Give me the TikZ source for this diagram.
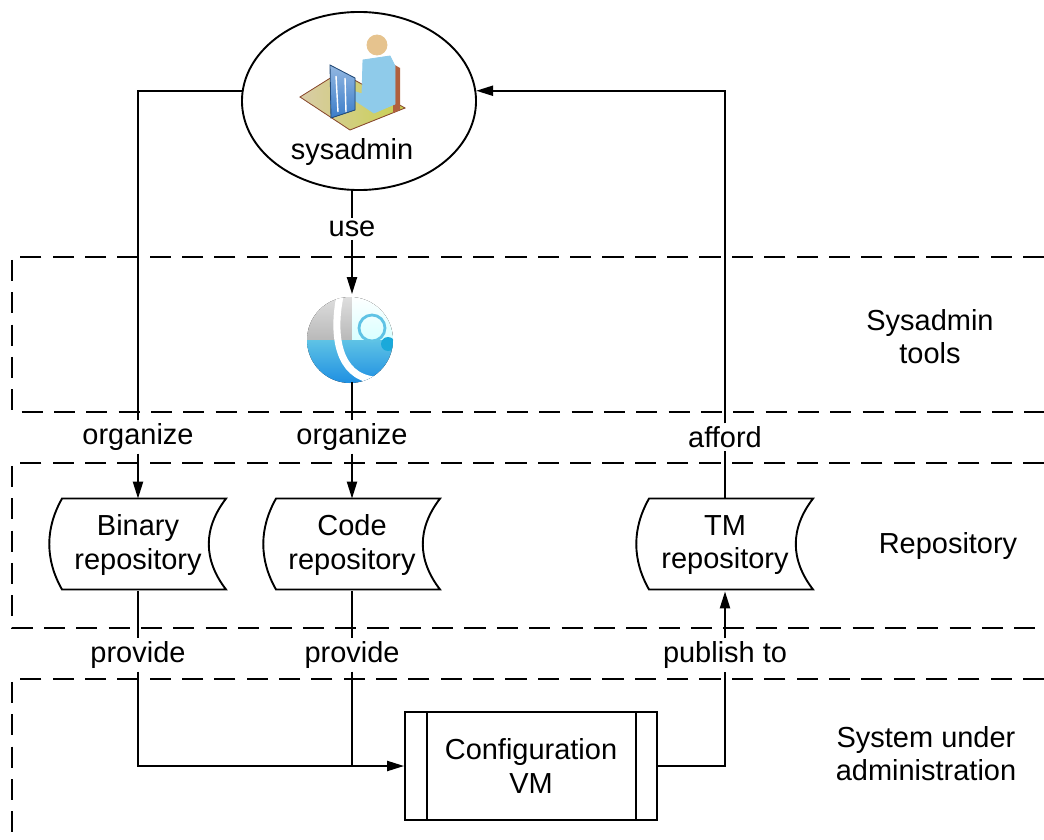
\documentclass[tikz,border=0pt]{standalone}
\usepackage{fontspec}
\setmainfont{Liberation Sans}
\usetikzlibrary{shapes.geometric, arrows.meta}

\definecolor{floorgreen}{HTML}{C9D14E}
\definecolor{desktan}{HTML}{D9CCA8}
\definecolor{screenblue}{HTML}{3B7DC9}
\definecolor{shirtblue}{HTML}{8FCBEA}
\definecolor{skin}{HTML}{E6C38E}
\definecolor{chairred}{HTML}{B0603E}
\definecolor{logocyan}{HTML}{1AA9DA}

\begin{document}
\begin{tikzpicture}[
  x=0.025cm, y=-0.025cm,
  font=\fontsize{20.6}{23.5}\selectfont,
  line width=1.35pt,
  tip/.style={-{Triangle[length=0.42cm,width=0.25cm]}},
  band/.style={dash pattern=on 15pt off 8pt},
  lab/.style={inner sep=1.5pt},
  repo/.style={minimum width=4.1cm, minimum height=2.275cm, align=center, inner sep=0pt},
  vmbox/.style={draw, minimum width=6.3cm, minimum height=2.68cm, align=center}]

  \useasboundingbox (0,0) rectangle (1044,840);
  \clip (0,0) rectangle (1044,840);
  \fill[white] (0,0) rectangle (1044,840);

  % the three layers
  \foreach \t/\b in {257/412, 463/628, 679/870}
    \draw[band] (1044,\t) -- (12,\t) -- (12,\b) -- (1044,\b);
  \node[align=center] (toolsband) at (930,337) {Sysadmin\\tools};
  \node (repoband) at (948,546) {Repository};
  \node[align=center] (sysband) at (926,754) {System under\\administration};

  % sysadmin at his desk
  \node[ellipse, draw, minimum width=5.85cm, minimum height=4.45cm] (sysadmin) at (359,101) {};
  \node (sysname) at (352,152) {sysadmin};
  \begin{scope}[line width=0.6pt]
    \fill[draw=chairred!80!black, left color=desktan, right color=floorgreen]
      (300,97) -- (340,72) -- (405,108) -- (350,130) -- cycle;
    \fill[chairred] (393,64) -- (400,68) -- (400,110) -- (393,113) -- cycle;
    \fill[draw=shirtblue!60!black, shirtblue]
      (363,60) -- (390,56) -- (395,66) -- (395,104) -- (374,113) -- (356,101)
      -- (346,96) -- (350,90) -- (362,94) -- cycle;
    \fill[draw=skin!60!black, skin] (377,45) circle[radius=10];
    \fill[draw=screenblue!60!black, top color=screenblue!55, bottom color=screenblue]
      (330,65) -- (355,78) -- (355,110) -- (331,118) -- cycle;
    \draw[white, line width=1pt] (336,76) -- (338,112) (345,78) -- (346,112);
  \end{scope}

  % tool logo
  \node[circle, minimum size=2.15cm, inner sep=0pt] (tool) at (352,338) {};
  \begin{scope}
    \clip (350,340) circle[radius=43];
    \fill[top color=gray!25, bottom color=gray!55] (300,295) rectangle (352,340);
    \fill[top color=white, bottom color=cyan!15] (352,295) rectangle (400,340);
    \fill[top color=logocyan!70, bottom color=logocyan!80!blue] (300,340) rectangle (400,390);
    \draw[white, line width=5pt] (340,296) .. controls (332,335) and (338,376) .. (374,380);
    \draw[logocyan!70, line width=2pt] (372,328) circle[radius=13];
    \fill[logocyan] (388,344) circle[radius=7];
  \end{scope}

  % labels on the connectors
  \node[lab] (use) at (352,229) {use};
  \node[lab] (orgbin) at (138,437) {organize};
  \node[lab] (orgcode) at (352,437) {organize};
  \node[lab] (afford) at (725,437) {afford};
  \node[lab] (provbin) at (138,655) {provide};
  \node[lab] (provcode) at (352,655) {provide};
  \node[lab] (publish) at (725,655) {publish to};

  % repositories and the VM
  \node[repo] (binrepo) at (138,545) {Binary\\repository};
  \node[repo] (coderepo) at (352,545) {Code\\repository};
  \node[repo] (tmrepo) at (725,545) {TM\\repository};
  \foreach \r in {binrepo, coderepo, tmrepo}
    \draw ([xshift=0.175cm]\r.north west) -- ++(164,0)
      .. controls +(-23,30) and +(-23,-30) .. ++(0,91) -- ++(-164,0)
      .. controls +(-17,-30) and +(-17,30) .. cycle;
  \node[vmbox] (vm) at (531,766) {Configuration\\VM};
  \draw ([xshift=0.575cm]vm.north west) -- ([xshift=0.575cm]vm.south west)
        ([xshift=-0.55cm]vm.north east) -- ([xshift=-0.55cm]vm.south east);

  % connectors
  \draw (sysadmin.175) -| (orgbin);
  \draw[tip] (orgbin) -- (binrepo);
  \draw (use |- sysadmin.south) -- (use);
  \draw[tip] (use) -- (tool);
  \draw (tool) -- (orgcode);
  \draw[tip] (orgcode) -- (coderepo);
  \draw (tmrepo) -- (afford);
  \draw[tip] (afford) |- (sysadmin.5);
  \draw (binrepo) -- (provbin);
  \draw[tip] (provbin) |- (vm);
  \coordinate (join) at (provcode |- vm.west);
  \draw (coderepo) -- (provcode);
  \draw (provcode) -- (join);
  \draw (vm) -| (publish);
  \draw[tip] (publish) -- (tmrepo);
\end{tikzpicture}
\end{document}
